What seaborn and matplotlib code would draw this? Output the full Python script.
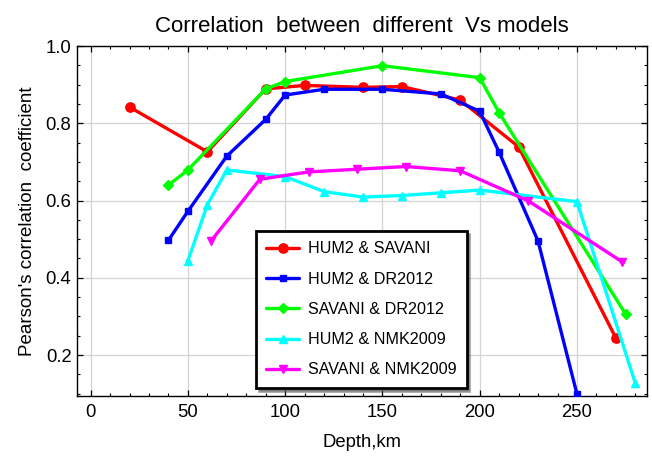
import matplotlib
matplotlib.use("Agg")
import matplotlib.pyplot as plt
from matplotlib.ticker import MultipleLocator
import seaborn as sns
import pandas as pd

sns.set_theme(style="white")
plt.rcParams['font.family'] = ['Liberation Sans', 'DejaVu Sans']
plt.rcParams['text.color'] = 'black'
plt.rcParams['axes.labelcolor'] = 'black'
plt.rcParams['xtick.color'] = 'black'
plt.rcParams['ytick.color'] = 'black'

labels = ["HUM2 & SAVANI", "HUM2 & DR2012", "SAVANI & DR2012", "HUM2 & NMK2009", "SAVANI & NMK2009"]
colors = ["#ff0000", "#0000ff", "#00ff00", "#00ffff", "#ff00ff"]
markers = ["o", "s", "D", "^", "v"]

hum2_savani_x = [20, 60, 90, 110, 140, 160, 190, 220, 270]
hum2_savani_y = [0.842, 0.726, 0.889, 0.898, 0.893, 0.895, 0.860, 0.739, 0.244]

hum2_dr2012_x = [40, 50, 70, 90, 100, 120, 150, 180, 200, 210, 230, 250]
hum2_dr2012_y = [0.497, 0.572, 0.715, 0.810, 0.873, 0.888, 0.888, 0.876, 0.831, 0.725, 0.495, 0.099]

savani_dr2012_x = [40, 50, 90, 100, 150, 200, 210, 275]
savani_dr2012_y = [0.640, 0.679, 0.889, 0.908, 0.949, 0.918, 0.827, 0.306]

hum2_nmk_x = [50, 60, 70, 100, 120, 140, 160, 180, 200, 250, 280]
hum2_nmk_y = [0.444, 0.589, 0.679, 0.662, 0.623, 0.609, 0.613, 0.620, 0.627, 0.597, 0.127]

savani_nmk_x = [62, 87, 112, 137, 162, 190, 225, 273]
savani_nmk_y = [0.496, 0.655, 0.674, 0.681, 0.688, 0.677, 0.599, 0.442]

series = [
    (hum2_savani_x, hum2_savani_y),
    (hum2_dr2012_x, hum2_dr2012_y),
    (savani_dr2012_x, savani_dr2012_y),
    (hum2_nmk_x, hum2_nmk_y),
    (savani_nmk_x, savani_nmk_y),
]

fig = plt.figure(figsize=(6.52, 4.58), dpi=100)
ax = fig.add_axes([77/652, 1-396/458, (647-77)/652, (396-46)/458])

msizes = [6.7, 4.8, 5.0, 5.8, 5.8]
for (xs, ys), lab, c, m, ms in zip(series, labels, colors, markers, msizes):
    df = pd.DataFrame({"x": xs, "y": ys})
    sns.lineplot(data=df, x="x", y="y", ax=ax, color=c, marker=m, markersize=ms,
                 markeredgecolor=c, markeredgewidth=1.0, linewidth=2.4, label=lab,
                 sort=False, zorder=3)

ax.set_xlim(-7, 286)
ax.set_ylim(0.094, 1.0)
ax.xaxis.set_major_locator(MultipleLocator(50))
ax.xaxis.set_minor_locator(MultipleLocator(10))
ax.yaxis.set_minor_locator(MultipleLocator(0.05))
ax.set_yticks([0.2, 0.4, 0.6, 0.8, 1.0])
ax.set_yticklabels(["0.2", "0.4", "0.6", "0.8", "1.0"])
ax.grid(True, which="major", color="#d4d4d4", linewidth=0.9, zorder=0)
ax.tick_params(which="both", direction="in", top=True, right=True, bottom=True, left=True,
               colors="black", labelsize=13.3)
ax.tick_params(which="major", length=4.5, width=0.9)
ax.tick_params(which="minor", length=2.5, width=0.8)
ax.tick_params(axis="x", which="major", pad=6)
ax.tick_params(axis="y", which="major", pad=4)
for s in ax.spines.values():
    s.set_color("black")
    s.set_linewidth(1.0)

ax.set_title("Correlation  between  different  Vs models", fontsize=16, pad=10)
ax.set_xlabel("Depth,km", fontsize=13.3, labelpad=9)
ax.set_ylabel("Pearson's correlation  coefficient", fontsize=13.5, labelpad=7)

leg = ax.legend(loc="lower left", bbox_to_anchor=(0.314, 0.023), borderaxespad=0,
                frameon=True, fancybox=False, shadow=True, fontsize=11.6,
                handlelength=2.0, handletextpad=0.55, labelspacing=0.95,
                borderpad=0.65, edgecolor="black", framealpha=1)
leg.get_frame().set_linewidth(2.0)

fig.savefig("out.png", dpi=100)
